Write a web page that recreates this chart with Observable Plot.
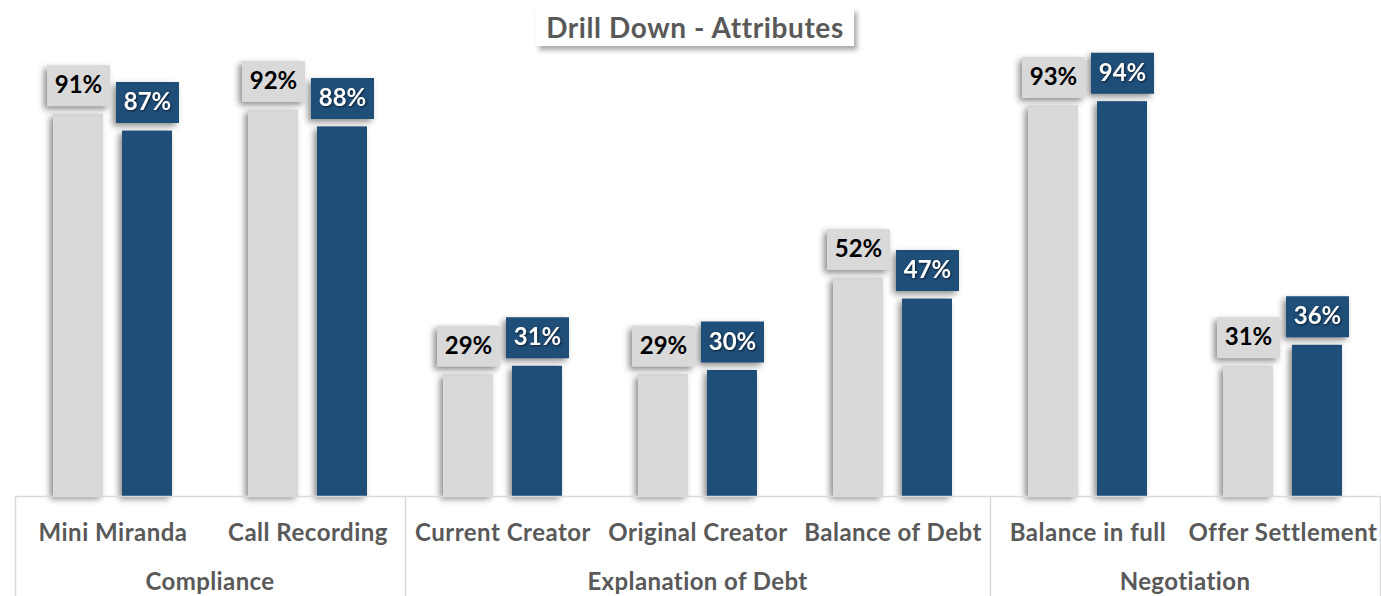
<!DOCTYPE html>
<html>
<head>
<meta charset="utf-8">
<script src="https://cdn.jsdelivr.net/npm/d3@7"></script>
<script src="https://cdn.jsdelivr.net/npm/@observablehq/plot@0.6"></script>
<style>
  html, body { margin: 0; padding: 0; background: #fff; }
  #wrap { position: relative; width: 1381px; height: 596px; font-family: Lato, "Open Sans", sans-serif; }
  #title {
    position: absolute; left: 536px; top: 8px; width: 318px; height: 38px;
    background: #fff; box-shadow: 3px 4px 5px rgba(0,0,0,0.35);
    color: #595959; font: 700 28px Lato, sans-serif; letter-spacing: 0.6px; line-height: 38px; text-align: center;
    z-index: 2;
  }
  svg { font-family: Lato, "Open Sans", sans-serif; }
  .bar, .box { filter: drop-shadow(-3px 3px 3px rgba(0,0,0,0.45)); }
  .lblw { filter: drop-shadow(1px 1px 1px rgba(0,0,0,0.6)); }
  g[aria-label^="fx-axis"] text { font-weight: 700; font-size: 24px; letter-spacing: 0.5px; fill: #595959; }
</style>
</head>
<body>
<div id="wrap"><div id="title">Drill Down - Attributes</div></div>
<script>
const categories = ["Mini Miranda", "Call Recording", "Current Creator", "Original Creator", "Balance of Debt", "Balance in full", "Offer Settlement"];
const groups = ["Compliance", "Compliance", "Explanation of Debt", "Explanation of Debt", "Explanation of Debt", "Negotiation", "Negotiation"];
const seriesKeys = ["Series 1", "Series 2"];
const series1 = [0.91, 0.92, 0.29, 0.29, 0.52, 0.93, 0.31];
const series2 = [0.87, 0.88, 0.31, 0.30, 0.47, 0.94, 0.36];
const colors = ["#d9d9d9", "#1f4e79"];

const data = [];
categories.forEach((c, i) => {
  data.push({category: c, series: seriesKeys[0], value: series1[i]});
  data.push({category: c, series: seriesKeys[1], value: series2[i]});
});

const boxSymbol = {
  draw(ctx) { ctx.moveTo(-31.5, -20.5); ctx.lineTo(31.5, -20.5); ctx.lineTo(31.5, 20.5); ctx.lineTo(-31.5, 20.5); ctx.closePath(); }
};
const fmt = d => Math.round(d.value * 100) + "%";

const chart = Plot.plot({
  width: 1381, height: 596,
  marginLeft: 14, marginRight: 0, marginTop: 76, marginBottom: 100,
  fx: {domain: categories, padding: 0, label: null, axis: "bottom", tickSize: 0, tickPadding: 27},
  x: {domain: seriesKeys, paddingInner: 0.275, paddingOuter: 0.55, axis: null},
  y: {domain: [0, 1], axis: null},
  color: {domain: seriesKeys, range: colors},
  marks: [
    Plot.barY(data, {fx: "category", x: "series", y: "value", fill: "series", className: "bar"}),
    Plot.dot(data, {fx: "category", x: "series", y: "value", dy: -28.5, symbol: boxSymbol, fill: "series", className: "box"}),
    Plot.text(data.filter(d => d.series === seriesKeys[0]), {fx: "category", x: "series", y: "value", dy: -28.5, text: fmt, fill: "#000", fontSize: 24, fontWeight: 700}),
    Plot.text(data.filter(d => d.series === seriesKeys[1]), {fx: "category", x: "series", y: "value", dy: -28.5, text: fmt, fill: "#fff", fontSize: 24, fontWeight: 700, className: "lblw"})
  ]
});

document.getElementById("wrap").appendChild(chart);

// group separators and labels, positioned with the plot's own scales
const fx = chart.scale("fx");
const ys = chart.scale("y");
const bw = fx.bandwidth;
const base = ys.apply(0);
const svg = d3.select(chart);
const uniq = [...new Set(groups)];
const g = svg.append("g");
const x0 = fx.apply(categories[0]);
const x1 = fx.apply(categories[categories.length - 1]) + bw;
g.append("line").attr("x1", x0).attr("x2", x1).attr("y1", base + 0.5).attr("y2", base + 0.5)
  .attr("stroke", "#d9d9d9").attr("stroke-width", 1.5);
const edges = [];
uniq.forEach(name => {
  const cats = categories.filter((c, i) => groups[i] === name);
  const left = fx.apply(cats[0]);
  const right = fx.apply(cats[cats.length - 1]) + bw;
  edges.push(left, right);
  g.append("text").attr("x", (left + right) / 2).attr("y", base + 94)
    .attr("text-anchor", "middle").attr("fill", "#595959")
    .attr("font-size", 24).attr("font-weight", 700).attr("letter-spacing", "0.4px").text(name);
});
[...new Set(edges.map(e => Math.round(e)))].forEach(e => {
  const xx = Math.min(e + 0.5, 1380.5);
  g.append("line").attr("x1", xx).attr("x2", xx).attr("y1", base).attr("y2", 596)
    .attr("stroke", "#d9d9d9").attr("stroke-width", 1.5);
});
</script>
</body>
</html>
